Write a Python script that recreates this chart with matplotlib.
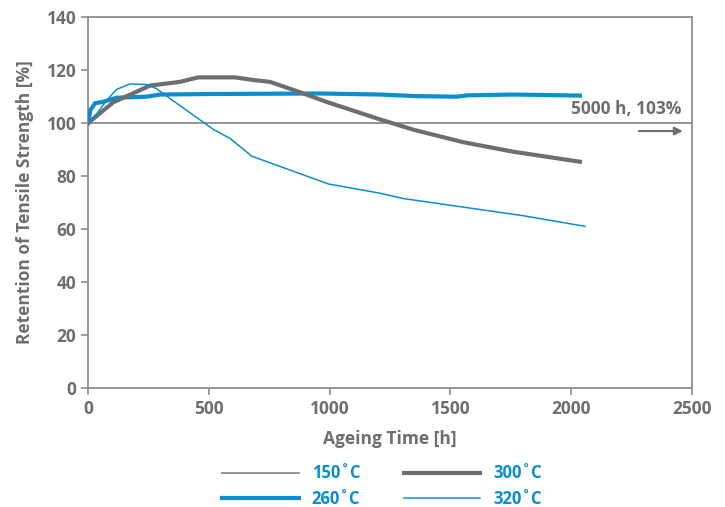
import matplotlib
matplotlib.use("Agg")
import matplotlib.pyplot as plt

plt.rcParams['font.family'] = ['Open Sans', 'DejaVu Sans']

GRAY = '#6d6e71'
LIGHT = '#8c8c8c'
BLUE = '#0a8ed0'

# 150 C: stays at ~100 % (5000 h, 103 %)
t150 = [0, 2500]
r150 = [100, 100]

# 260 C
t260 = [0, 10, 29, 60, 119, 243, 298, 500, 960, 1209, 1360, 1526, 1570, 1760, 2036]
r260 = [100, 105, 107.5, 108, 109.6, 110, 110.8, 111, 111.2, 110.8, 110.2, 110, 110.5, 110.8, 110.4]

# 300 C
t300 = [0, 105, 257, 312, 381, 457, 608, 684, 753, 877, 988, 1209, 1347, 1553, 1760, 2036]
r300 = [100, 107.9, 114.2, 114.8, 115.6, 117.3, 117.3, 116.3, 115.6, 111.7, 108, 101.4, 97.5, 92.8, 89.2, 85.4]

# 320 C
t320 = [0, 40, 77, 119, 174, 243, 284, 367, 464, 519, 588, 678, 995, 1209, 1305, 1802, 2057]
r320 = [100, 104, 108.6, 112.8, 114.8, 114.6, 113, 107.5, 101.2, 97.6, 94.2, 87.5, 77, 73.5, 71.5, 65, 61]

fig = plt.figure(figsize=(7.25, 5.07), dpi=100)
ax = fig.add_axes([0.1214, 0.2353, 0.8331, 0.7306])

ax.plot(t150, r150, color=LIGHT, lw=1.3, label='150˚C', zorder=2)
ax.plot(t260, r260, color=BLUE, lw=3.0, label='260˚C', zorder=3)
ax.plot(t300, r300, color=GRAY, lw=3.0, label='300˚C', zorder=4)
ax.plot(t320, r320, color=BLUE, lw=1.1, label='320˚C', zorder=5)

ax.text(2455, 102.0, '5000 h, 103%', ha='right', va='bottom',
        color=GRAY, fontsize=12.5, fontweight='bold')
ax.annotate('', xy=(2462, 97), xytext=(2280, 97),
            arrowprops=dict(arrowstyle='-|>', color=GRAY, lw=1.5,
                            mutation_scale=12, shrinkA=0, shrinkB=0))

ax.set_xlim(0, 2500)
ax.set_ylim(0, 140)
ax.set_xticks(range(0, 2501, 500))
ax.set_yticks(range(0, 141, 20))

for s in ax.spines.values():
    s.set_color(LIGHT)
    s.set_linewidth(1.3)
ax.tick_params(colors=LIGHT, length=5, width=1.2, labelcolor=GRAY, labelsize=12.5)
for lab in ax.get_xticklabels() + ax.get_yticklabels():
    lab.set_fontweight('bold')

ax.set_xlabel('Ageing Time [h]', color=GRAY, fontsize=12.5, fontweight='bold', labelpad=9)
ax.set_ylabel('Retention of Tensile Strength [%]', color=GRAY, fontsize=12.5,
              fontweight='bold', labelpad=9)

leg = fig.legend(loc='center', bbox_to_anchor=(0.527, 0.041), ncol=2, frameon=False,
                 handlelength=4.6, columnspacing=2.6, handletextpad=0.8,
                 labelspacing=0.45, prop=dict(size=12, weight='bold'))
for txt in leg.get_texts():
    txt.set_color(BLUE)

fig.savefig('out.png', dpi=100)
